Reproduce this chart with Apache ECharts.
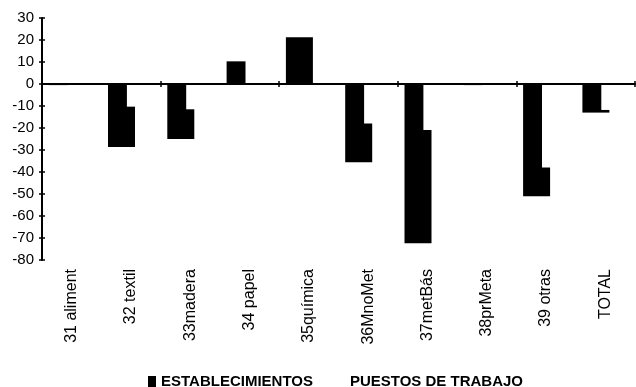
<!DOCTYPE html>
<html><head><meta charset="utf-8">
<script src="https://cdn.jsdelivr.net/npm/echarts@6/dist/echarts.min.js"></script>
<style>html,body{margin:0;padding:0;background:#fff}#c{width:636px;height:387px}</style>
</head><body><div id="c"></div>
<script>
const categories = ['31 aliment','32 textil','33madera','34 papel','35química','36MnoMet','37metBás','38prMeta','39 otras','TOTAL'];
const establecimientos = [-0.5, -28.6, -25, 10.3, 21.3, -35.6, -72.4, -0.5, -51, -13];
const puestos = [-6, -10.3, -11.5, 12, -2, -17.9, -20.9, -1, -38, -11.8];
const yTicks = {min: -80, max: 30, interval: 10};

const chart = echarts.init(document.getElementById('c'), null, {renderer: 'canvas'});
const lineStyle = {color: '#000', width: 2};
chart.setOption({
  animation: false,
  backgroundColor: '#fff',
  textStyle: {fontFamily: 'Liberation Sans, Arial, sans-serif'},
  grid: {left: 42, right: 1, top: 18, bottom: 127, containLabel: false},
  legend: {
    left: 143, top: 369, itemWidth: 8, itemHeight: 11, itemGap: 24, icon: 'rect',
    textStyle: {fontSize: 15, fontWeight: 'bold', color: '#000', fontFamily: 'Liberation Sans, Arial'},
    data: ['ESTABLECIMIENTOS', 'PUESTOS DE TRABAJO']
  },
  xAxis: [
    {type: 'category', data: categories, position: 'bottom',
     axisLine: {show: false, onZero: false}, axisTick: {show: false},
     axisLabel: {rotate: 90, margin: 9, fontSize: 16, color: '#000', interval: 0}},
    {type: 'category', data: categories, position: 'bottom', z: 5,
     axisLine: {show: true, onZero: true, lineStyle: lineStyle},
     axisTick: {show: true, inside: false, length: 3, lineStyle: {color: '#000', width: 1.5}},
     axisLabel: {show: false}},
    {type: 'category', data: categories, position: 'bottom', z: 5,
     axisLine: {show: false, onZero: true},
     axisTick: {show: true, inside: true, length: 3, lineStyle: {color: '#000', width: 1.5}},
     axisLabel: {show: false}}
  ],
  yAxis: [
    {type: 'value', min: yTicks.min, max: yTicks.max, interval: yTicks.interval, z: 5,
     axisLine: {show: true, lineStyle: lineStyle},
     axisTick: {show: true, length: 3, lineStyle: {color: '#000', width: 1.5}},
     axisLabel: {fontSize: 15, color: '#000', margin: 8},
     splitLine: {show: false}},
    {type: 'value', min: yTicks.min, max: yTicks.max, interval: yTicks.interval, position: 'left', z: 5,
     axisLine: {show: false},
     axisTick: {show: true, inside: true, length: 3, lineStyle: {color: '#000', width: 1.5}},
     axisLabel: {show: false}, splitLine: {show: false}}
  ],
  series: [
    {name: 'ESTABLECIMIENTOS', type: 'bar', data: establecimientos, xAxisIndex: 0, yAxisIndex: 0,
     barWidth: 27, barGap: '-30%', itemStyle: {color: '#000'}},
    {name: 'PUESTOS DE TRABAJO', type: 'bar', data: puestos, xAxisIndex: 0, yAxisIndex: 0,
     barWidth: 27, barGap: '-30%', itemStyle: {color: '#fff'}}
  ]
});
</script></body></html>
